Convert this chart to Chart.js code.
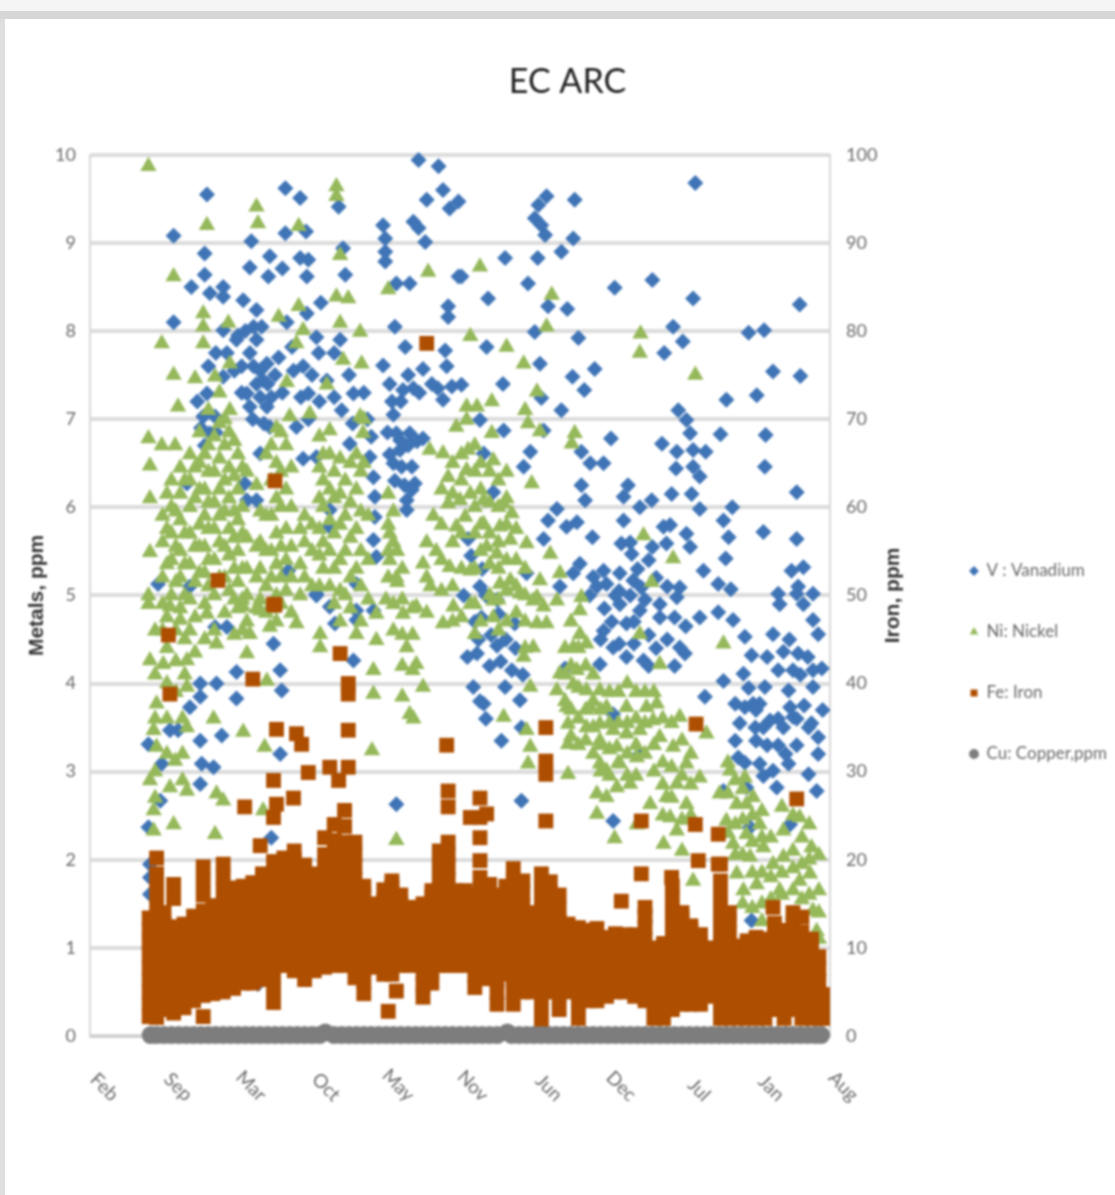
<!DOCTYPE html>
<html><head><meta charset="utf-8">
<script src="https://cdn.jsdelivr.net/npm/chart.js@4"></script>
<style>
html,body{margin:0;padding:0;background:#fff;width:1115px;height:1195px;overflow:hidden}
#wrap{position:absolute;left:0;top:0;width:1115px;height:1195px}
#frameT{position:absolute;left:0;top:0;width:1115px;height:11px;background:#f5f5f5;border-bottom:8px solid #d6d6d6}
#frameL{position:absolute;left:0;top:19px;width:5px;height:1176px;background:#dedede}
canvas{position:absolute;left:0;top:0;filter:blur(1.1px)}
</style></head><body>
<div id="wrap"><canvas id="c" width="1115" height="1195"></canvas><div id="frameT"></div><div id="frameL"></div></div>
<script>
const monthLabels=["Feb","Sep","Mar","Oct","May","Nov","Jun","Dec","Jul","Jan","Aug"];
const seriesNames=["V : Vanadium","Ni: Nickel","Fe: Iron","Cu: Copper,ppm"];
const rightTicks=[0,10,20,30,40,50,60,70,80,90,100];

const vanadium=[[1.58,9.55],[1.13,9.08],[1.55,8.88],[1.55,8.64],[1.37,8.5],[1.62,8.43],[1.8,8.5],[1.8,8.39],[1.13,8.1],[2.64,9.62],[2.84,9.51],[2.64,9.11],[2.92,9.13],[2.18,9.02],[2.16,8.72],[2.43,8.85],[2.41,8.62],[2.6,8.71],[2.84,8.83],[2.95,8.81],[2.93,8.62],[3.12,8.32],[3.36,9.41],[3.42,8.94],[3.45,8.64],[3.96,9.2],[3.99,9.05],[3.99,8.9],[3.99,8.79],[4.44,9.94],[4.71,9.87],[4.37,9.24],[4.44,9.17],[4.55,9.49],[4.53,9.01],[4.77,9.6],[4.86,9.39],[4.98,9.47],[4.14,8.54],[4.32,8.54],[4.84,8.28],[4.84,8.16],[4.98,8.62],
[4.12,8.05],[4.26,7.82],[4.5,7.57],[4.8,7.78],[4.82,7.6],[3.96,7.61],[4.05,7.4],[4.23,7.33],[4.37,7.35],[4.08,7.2],[4.77,7.22],[4.89,7.37],[4.14,6.84],[4.32,6.84],[4.5,6.78],[4.19,6.65],[4.21,6.46],[4.35,6.46],[4.39,6.27],[4.28,6.08],[4.28,5.97],[4.19,6.76],
[2.07,8.35],[2.25,8.24],[2.21,8.05],[2.32,8.05],[1.8,8.01],[1.98,7.9],[2.66,8.1],[2.93,8.2],[3.06,7.93],[3.09,7.75],[2.73,7.82],[3.38,7.9],[2.16,7.75],[2.21,7.6],[2.39,7.63],[1.8,7.48],[2.34,7.44],[2.12,7.29],[2.3,7.25],[2.45,7.25],[2.16,7.14],[2.39,7.14],[2.43,6.91],[1.58,7.29],[1.53,7.03],[1.69,7.03],[1.62,6.84],[2.88,7.6],[3.2,7.44],[2.95,7.29],[2.79,6.91],[3.56,7.29],[2.3,6.61],[3.06,6.57],[2.88,6.55],[3.51,6.72],[3.78,6.57],[3.83,6.34],[3.85,6.12],[3.85,5.89],[3.83,5.63],[3.87,5.44],[2.09,6.27],[2.12,6.08],[2.25,6.08],[3.24,5.97],[3.24,5.78],[1.31,6.27],[1.35,5.1],[2.68,5.28],[0.92,5.13],[3.06,5.02],[3.6,5.13],
[8.18,9.68],[6.17,9.53],[6.06,9.43],[6.01,9.28],[6.1,9.2],[6.15,9.09],[6.55,9.49],[6.53,9.05],[6.37,8.9],[6.05,8.83],[5.61,8.83],[5.92,8.54],[5.02,8.62],[5.38,8.37],[7.09,8.49],[7.6,8.58],[8.15,8.37],[9.59,8.3],[6.19,8.28],[6.45,8.25],[6.01,7.99],[6.6,7.92],[5.36,7.82],[7.88,8.05],[8.01,7.88],[7.76,7.75],[8.9,7.98],[9.11,8.01],[6.08,7.63],[6.52,7.48],[6.82,7.57],[6.68,7.33],[9.23,7.54],[9.6,7.49],[5.58,7.4],[5.02,7.39],[9.01,7.27],[8.6,7.22],[6.1,7.24],[6.37,7.1],[5.27,6.99],[7.95,7.1],[8.06,6.99],[8.11,6.84],[8.15,6.65],[8.15,6.46],[5.59,6.87],[6.13,6.87],[8.52,6.83],[9.13,6.82],[7.04,6.78],[7.73,6.72],[7.93,6.63],[7.92,6.44],[8.32,6.63],[8.24,6.35],[5.32,6.61],[5.95,6.63],[5.86,6.46],[6.64,6.63],[6.76,6.5],[6.94,6.5],[9.12,6.46],[9.55,6.17],[6.64,6.25],[6.69,6.08],[7.27,6.25],[7.21,6.12],[7.86,6.15],[8.13,6.15],[8.24,5.98],[8.68,6.0],[8.56,5.85],[8.63,5.66],[5.45,6.17],[6.31,5.98],[6.19,5.85],[6.13,5.64],[6.44,5.78],[6.58,5.83],[6.79,5.66],[7.21,5.85],[7.43,6.0],[7.59,6.08],[7.75,5.78],[7.84,5.8],[7.79,5.59],[8.06,5.7],[8.11,5.55],[9.1,5.72],[9.55,5.64],[7.18,5.59],[7.32,5.47],[8.59,5.42],[8.29,5.28],[8.49,5.13],[8.66,5.07],[9.48,5.28],[9.64,5.32],[9.57,5.1],[9.3,5.02],[9.77,5.02],[5.9,5.25],[5.11,5.64],[5.27,5.1],[6.62,5.36],[6.53,5.25],[6.8,5.21],[6.94,5.28],[7.16,5.25],[7.34,5.17],[7.45,5.09],[7.97,5.09],[6.35,5.1],[6.98,5.13],
[5.29,4.75],[5.52,4.79],[5.74,4.68],[5.23,4.34],[5.5,4.43],[5.18,3.96],[5.32,3.77],[5.7,4.15],[5.61,3.96],[5.81,3.81],[5.56,3.35],[5.83,2.67],[5.83,3.5],[7.16,4.9],[7.43,4.83],[7.7,4.9],[7.93,4.98],[8.24,4.75],[8.49,4.81],[8.69,4.72],[8.85,4.53],[8.94,4.32],[8.83,4.11],[8.56,4.03],[8.31,3.85],[9.32,4.9],[9.64,4.9],[9.77,4.72],[9.84,4.56],[9.55,5.02],[9.23,4.56],[9.37,4.36],[9.57,4.34],[9.5,4.15],[9.77,4.15],[9.89,4.17],[9.77,3.96],[9.12,3.96],[8.96,3.77],[9.44,3.92],[9.46,3.73],[8.72,3.77],[8.85,3.73],[9.05,3.77],[8.99,3.5],[8.72,3.35],[8.76,3.16],[9.19,3.58],[9.37,3.5],[9.5,3.62],[9.71,3.5],[9.84,3.39],[9.84,3.2],[9.05,3.09],[9.28,2.82],[9.23,3.01],[9.44,3.09],[9.71,2.97],[9.82,2.78],[8.56,2.78],[8.87,2.82],[8.94,1.31],[9.46,2.4],[7.07,2.44],[8.92,2.37],[6.94,4.6],[7.07,4.41],[7.25,4.68],[6.89,4.22],[7.25,4.3],[7.48,4.26],[7.7,4.75],[7.97,4.41],[8.04,4.34],[7.07,3.65],[7.43,3.2],[6.42,4.17],
[3.06,5.0],[3.24,4.87],[3.31,4.68],[3.6,4.83],[3.6,4.72],[3.83,4.83],[1.98,4.13],[1.71,4.0],[1.98,3.83],[1.49,4.0],[1.49,3.85],[2.57,4.15],[2.59,3.92],[2.48,4.45],[1.78,3.41],[1.08,3.47],[1.19,3.47],[1.49,3.35],[1.51,3.09],[1.49,2.86],[1.67,3.05],[0.97,3.09],[2.57,3.2],[0.95,2.67],[2.45,2.25],[4.14,2.63],[0.81,1.95],[0.81,1.8],[0.81,1.61],[3.56,4.26],[1.69,4.64],[1.85,4.64],[1.35,3.73],[0.79,3.31],[0.79,2.37],[2.27,0.59],[5.15,5.45],[5.3,5.3],[5.05,5.0],[5.2,4.7],[5.27,3.8]];

const vanadiumCore=[[1.6,7.6],[1.7,7.75],[1.85,7.75],[1.95,7.55],[2.05,7.6],[2.0,7.95],[2.1,8.0],[2.25,7.9],[2.3,7.55],[2.4,7.4],[2.25,7.4],[2.05,7.3],[2.2,7.0],[2.35,6.95],[2.55,7.7],[2.5,7.5],[2.6,7.3],[2.75,7.55],[2.85,7.25],[3.0,7.5],[2.95,7.0],[3.1,7.2],[3.3,7.75],[3.3,7.25],[3.4,7.1],[3.5,7.5],[3.55,6.95],[3.7,7.3],[3.75,7.0],[3.8,6.8],[1.5,6.9],[1.45,7.2],[1.7,6.85],[1.55,6.7],
[4.02,6.85],[4.1,6.5],[4.05,6.6],[4.12,6.3],[4.25,6.25],[4.3,6.7],[4.42,6.75],[4.35,6.2],[4.1,7.05],[4.2,7.2],[4.3,7.5],[4.45,7.3],[4.62,7.4],[4.7,7.35],
[5.35,5.0],[5.42,4.55],[5.5,4.95],[5.62,4.5],[5.25,4.5],[5.1,4.3],[5.4,4.2],[5.55,4.25],[5.75,4.4],[5.85,4.1],[5.35,3.6],
[6.75,5.0],[6.85,5.1],[6.95,4.85],[7.05,4.7],[7.15,5.05],[7.3,5.0],[7.35,4.7],[7.5,4.95],[7.55,4.55],[7.65,5.2],[7.8,5.1],[7.9,4.75],[8.05,4.65],[7.55,5.4],[7.6,5.55],[7.4,5.3],[7.3,5.6],[7.1,5.0],[6.9,4.5],[7.15,4.45],[7.35,4.45],[7.55,4.2],[7.65,4.4],[7.8,4.5],[7.9,4.2],
[8.78,3.55],[8.9,3.95],[9.0,3.7],[9.1,3.5],[9.15,3.3],[9.3,3.3],[9.3,3.6],[9.4,3.2],[9.55,3.3],[9.55,3.6],[9.6,4.1],[9.7,4.3],[9.65,3.75],[9.75,3.55],[9.9,3.7],[9.45,4.5],[9.3,4.15],[9.15,4.3],[9.1,2.95],[8.85,3.1],[9.0,3.35]];

const nickel=[[0.79,9.87],[2.25,9.41],[2.27,9.22],[3.33,9.64],[3.33,9.53],[1.58,9.2],[1.13,8.62],[2.82,9.19],[3.38,8.86],[4.57,8.67],[4.03,8.47],[3.33,8.39],[3.49,8.37],[1.53,8.2],[1.53,8.05],[0.97,7.86],[1.13,7.5],[1.19,7.14],[0.79,6.78],[0.97,6.7],[1.15,6.7],[0.81,6.47],[0.81,6.1],[0.81,5.49],[0.79,5.0],[1.42,7.46],[1.53,7.86],[1.87,8.09],[2.55,8.16],[2.82,8.28],[2.88,8.01],[2.79,7.86],[2.66,7.42],[3.38,8.09],[3.65,7.99],[3.42,7.67],[3.2,7.39],[3.67,7.63],[3.24,6.87],[3.65,7.03],[3.69,6.84],[2.97,7.06],[2.7,7.03],[1.89,7.1],[1.69,7.48],[1.89,7.63],[4.77,6.61],[4.59,6.65],[4.95,6.91],
[0.98,5.9],[0.98,5.6],[0.98,5.2],[0.98,4.9],[0.98,4.6],[1.1,6.3],[1.1,6],[1.1,5.7],[1.1,5.4],[1.1,5.0],[1.22,6.45],[1.22,6.15],[1.22,5.85],[1.22,5.5],[1.22,5.2],[1.22,4.85],[1.35,6.6],[1.35,6.3],[1.35,6],[1.35,5.7],[1.35,5.35],[1.35,4.95],[1.48,6.85],[1.48,6.5],[1.48,6.2],[1.48,5.8],[1.48,5.55],[1.48,5.25],[1.6,7.1],[1.6,6.7],[1.6,6.4],[1.6,6.05],[1.6,5.75],[1.6,5.4],[1.6,5.1],[1.75,7.3],[1.75,6.95],[1.75,6.55],[1.75,6.2],[1.75,5.9],[1.75,5.6],[1.75,5.2],[1.88,6.85],[1.88,6.45],[1.88,6.1],[1.88,5.75],[1.88,5.45],[1.88,5.05],[2.0,6.6],[2.0,6.2],[2.0,5.85],[2.0,5.5],[2.0,5.15],[2.0,4.85],[2.12,6.4],[2.12,5.65],[2.12,5.3],[2.12,5.0],[2.12,4.7],[2.25,6.25],[2.25,5.55],[2.25,5.2],[2.25,4.85],[2.38,6.6],[2.38,5.9],[2.38,5.5],[2.38,5.1],[2.38,4.8],[2.52,6.9],[2.52,6.5],[2.52,6.1],[2.52,5.7],[2.52,5.35],[2.52,5.0],[2.52,4.7],[2.65,6.7],[2.65,6.2],[2.65,5.75],[2.65,5.4],[2.65,5.05],[2.9,5.9],[2.9,5.6],[2.9,5.2],[3.0,5.8],[3.0,5.5],[3.0,5.1],[3.15,6.6],[3.15,6.3],[3.15,6.0],[3.15,5.6],[3.15,5.3],[3.3,6.4],[3.3,6.1],[3.3,5.7],[3.3,5.3],[3.3,4.9],[3.45,6.3],[3.45,5.9],[3.45,5.5],[3.45,5.0],[3.6,6.6],[3.6,6.2],[3.6,5.75],[3.6,5.3],[3.7,7.0],[3.7,6.5],[4.03,6.15],[4.03,5.8],[4.03,5.5],[4.03,5.2],[4.15,5.5],[4.15,5.15],[4.0,4.95],[4.64,5.9],[4.5,5.36],[4.68,5.5],[4.84,6.34],[4.84,6.04],[4.95,5.78],[4.86,5.32],[4.6,5.1],[4.05,5.7],[4.05,5.4],[4.14,5.2],
[5.27,8.73],[5.14,7.94],[5.63,7.82],[5.86,7.63],[6.24,8.41],[6.17,8.05],[7.44,7.97],[7.43,7.75],[8.18,7.5],[6.04,7.31],[5.88,7.1],[5.92,6.95],[6.08,6.86],[6.55,6.84],[6.51,6.72],[5.43,7.2],[5.23,7.14],[5.09,7.14],[5.09,6.99],[5.43,6.84],[5.11,6.65],[5.45,6.53],[5.63,6.4],[5.97,6.27],[5.09,6.42],[5.14,6.15],[5,6.08],[5.32,6.08],[5.59,6.04],[5.7,5.93],[5.07,5.89],[5.32,5.81],[5.54,5.78],[5.68,5.63],[5.9,5.59],[5.36,5.55],[5.5,5.47],[6.22,5.47],[6.08,5.17],[6.35,5.25],[5.68,5.17],[5.81,5.02],[5.14,5.28],[5.54,5.13],[7.48,5.68],[7.88,5.42],[7.59,5.15],[6.64,4.98],[6.04,4.98],
[5.14,4.9],[5.45,4.94],[5.45,4.75],[5.2,4.56],[5.99,4.94],[6.13,4.87],[6.31,4.94],[6.04,4.68],[6.17,4.68],[5.99,4.41],[5.86,4.3],[6.62,4.83],[6.62,4.56],[6.53,4.41],[6.71,4.45],[7.43,4.56],[7.7,4.22],[6.58,4.15],[6.35,4.11],[6.53,3.99],[6.31,3.92],[5.95,3.96],[6.71,3.92],[6.89,3.92],[6.44,3.73],[6.76,3.73],[5.59,3.62],[5.9,3.47],[5.95,3.28],[5.92,3.09],[6.46,3.54],[6.46,3.31],[6.46,2.97],[6.71,3.5],[6.89,3.54],[6.89,3.35],[6.89,3.09],[7.07,3.47],[7.12,3.28],[7.25,3.43],[7.43,3.47],[7.61,3.58],[7.66,3.77],[7.25,3.73],[6.98,3.73],[7.52,3.73],[7.7,3.39],[7.39,3.16],[7.16,3.09],[6.98,3.01],[7.3,2.86],[6.85,2.75],[7.12,2.82],[6.85,2.52],[6.98,2.71],[7.57,2.63],[7.09,2.24],[7.39,2.4],[7.88,3.28],[8.06,3.09],[7.93,2.86],[7.79,2.71],[7.84,2.48],[8.06,2.63],[7.75,2.18],[7.93,2.33],[8.24,2.93],[8.33,3.43],[7.97,3.62],[8.56,4.45],[8.65,3.01],[8.51,2.75],[8.6,2.44],[8.74,2.63],[8.87,2.63],[8.69,2.18],[8.87,2.29],[9.05,2.4],[8.74,1.84],[8.92,2.03],[9.1,2.14],[8.83,1.65],[9.01,1.72],[9.23,1.95],[9.37,2.33],[9.37,2.03],[9.5,1.9],[9.59,2.48],[9.75,2.14],[9.73,1.84],[9.59,1.76],[9.77,1.42],[9.82,1.19],[9.32,1.65],[8.15,1.76],[8.85,2.93],[8.96,2.71],
[0.79,4.9],[1.08,4.87],[1.22,4.72],[1.58,4.79],[2.07,4.87],[2.3,4.83],[2.16,4.56],[2.43,4.64],[1.71,4.45],[0.81,4.26],[0.99,4.22],[1.31,4.26],[1.35,4.6],[2.79,4.68],[3.11,4.41],[2.39,4.03],[2.12,4.34],[0.9,3.77],[1.31,3.96],[0.86,3.47],[0.9,3.28],[1.67,3.6],[2.07,3.45],[2.36,3.28],[1.31,3.5],[1.15,3.12],[1.31,2.78],[1.08,2.82],[0.81,2.9],[0.86,2.56],[1.13,2.4],[0.86,2.33],[1.71,2.75],[1.8,2.67],[1.69,2.29],[2.34,2.56],[3.81,3.24],[4.14,2.22],[3.87,4.79],[3.87,4.49],[3.83,4.15],[3.83,3.88],[4.23,4.79],[4.41,4.87],[4.28,4.41],[4.41,4.22],[4.5,3.96],[4.32,3.65],[4.37,3.6],[4.77,4.68],[4.91,4.87],[3.6,4.56],[3.11,4.56]];

const nickelCore=[
[0.88,4.6,4.1,3.6,3.0,2.7],[1.04,6.15,5.75,5.35,4.75,4.4,4.0,3.6,3.2],[1.16,5.95,5.55,5.15,4.6,4.25,3.9],[1.25,3.6,3.2,2.9],[1.28,6.3,5.7,5.35,5.0,4.5,4.1],[1.42,6.45,6.1,5.55,5.15,4.75,4.35],[1.55,6.6,6.2,5.9,5.55,5.25,4.9,4.5],[1.68,6.8,6.4,6.05,5.75,5.4,5.0,4.6],[1.82,7.0,6.7,6.3,5.95,5.55,5.2,4.8],[1.95,6.75,6.35,5.95,5.65,5.3,4.95,4.55],[2.06,6.45,6.0,5.7,5.3,4.95,4.6],[2.3,5.95,5.6,5.3,4.95],[2.45,6.7,6.3,5.9,5.5,5.2,4.85],[2.58,6.85,6.4,6.0,5.55,5.2,4.9],[2.72,6.45,6.0,5.55,5.2,4.8],[2.84,5.75,5.35,5.0],[3.1,6.8,6.45,6.1,5.75,5.45,5.1],[3.24,6.6,6.2,5.85,5.5,5.1],[3.38,6.55,6.15,5.8,5.4,5.05,4.7],[3.52,6.5,6.05,5.65,5.2,4.85],[3.66,6.4,5.95,5.5,5.1,4.7],[3.76,5.9,5.4,4.95],
[4.1,5.95,5.6,4.9,4.6],[4.22,5.3,4.95,4.55,4.2,3.85],[4.36,4.85,4.55,4.15],[4.55,5.6,5.2,4.8],[4.75,6.2,5.8,5.4,5.05],[4.9,6.5,6.15,5.6,5.1,4.7],[5.02,6.6,6.3,5.7,5.3,4.75],[5.2,6.7,6.4,6.0,5.7,5.3,4.9],[5.28,6.5,6.2,5.8,5.5,4.7],[5.4,6.4,6.05,5.7,5.35,5],[5.52,6.3,6,5.6,5.3,4.95,4.6],[5.63,6.1,5.8,5.4,5.05,4.7],[5.76,5.75,5.4,5.1,4.8],[5.88,5.3,5,4.7,4.4],
[6.42,4.4,4.1,3.8],[6.5,4.7,4.2,3.7,3.4],[6.6,4.4,3.95,3.6,3.3],[6.7,4.2,3.7,3.35],[6.8,4.1,3.8,3.5,3.2],[6.9,3.7,3.3,3.0],[7.02,3.9,3.55,3.25,2.95],[7.14,3.9,3.55,3.1],[7.26,4.0,3.55,3.2,2.95],[7.38,3.9,3.6,3.3,2.95],[7.5,3.9,3.55,3.2],[7.62,3.9,3.3,3.0],[7.74,3.6,3.1,2.85,2.5],[7.86,3.55,3.05,2.7],[8.0,3.35,2.95,2.45,2.1],[8.12,3.2,2.85,2.5],
[8.62,3.1,2.75,2.3],[8.72,2.9,2.4,2.05],[8.82,2.8,2.45,2.05,1.5],[8.95,2.5,2.2,1.85,1.45],[9.08,2.55,2.25,1.85,1.5,1.3],[9.2,2.25,1.8,1.55],[9.35,2.6,1.85,1.6],[9.5,2.5,2.1,1.65],[9.62,2.25,1.95,1.55],[9.72,2.4,2.0,1.6],[9.85,2.05,1.65,1.4,1.1]];

const ironOutliers=[[1.06,45.5],[1.08,38.8],[2.2,40.5],[2.48,49],[3.38,43.4],[3.49,40],[3.49,38.8],[3.49,34.7],[2.79,34.3],[2.86,33.1],[2.52,34.8],[2.95,29.9],[3.24,30.5],[3.36,29],[3.49,30.5],[2.48,29],[2.52,26.3],[2.48,24.8],[2.75,27],[2.09,26],[2.3,21.6],[4.82,33],[4.84,27.8],[4.84,26],[2.5,63],[1.73,51.7],[2.5,48.9],[4.55,78.6],[5.27,27],[5.14,24.8],[5.27,24.8],[5.36,25.2],[5.27,22.5],[6.16,35],[6.16,31.2],[6.16,29.7],[6.16,24.4],[8.19,35.4],[7.45,24.4],[8.18,24],[8.22,19.9],[8.49,22.9],[9.55,26.9],[7.45,18.4],[7.18,15.3],[7.86,18],[9.23,14.6],[8.49,19.5]];

const ironBand=[
[0.8,2.2,3.6,5,6.4,7.8,9.2,10.6,12,13.4],
[0.9,2.1,3.5,4.9,6.3,7.7,9.1,10.5,12,13.6,15.2,16.8,18.4,20.2],
[1.0,3,4.4,5.8,7.2,8.6,10,11.4,12.8,14],
[1.13,2.6,4,5.4,6.8,8.2,9.6,11,12.4,15.6,17.2],
[1.27,3.2,4.6,6,7.4,8.8,10.2,11.6,12.7],
[1.4,4,5.4,6.8,8.2,9.6,11,12.4,13.6],
[1.53,2.2,4.6,6,7.4,8.8,10.2,11.6,13,14.2,16,17.6,19.2],
[1.66,4.8,6.2,7.6,9,10.4,11.8,13.2,14.8],
[1.8,5,6.4,7.8,9.2,10.6,12,13.4,15,16.6,18,19.5],
[1.94,5.4,6.8,8.2,9.6,11,12.4,13.8,15.4,16.8],
[2.07,6,7.4,8.8,10.2,11.6,13,14.4,15.8,17],
[2.2,6,7.4,8.8,10.2,11.6,13,14.4,15.9,17.4],
[2.33,6.4,7.8,9.2,10.6,12,13.4,14.8,16.2,17.4,18.4],
[2.48,3.8,5.4,7,8.4,9.8,11.2,12.6,14,15.4,16.8,18.2,19.8],
[2.62,8,9.4,10.8,12.2,13.6,15,16.4,17.8,19,20.2],
[2.76,7.4,8.8,10.2,11.6,13,14.4,15.8,17.2,18.6,20,21],
[2.9,6.4,7.8,9.2,10.6,12,13.4,14.8,16.2,17.8,19.4],
[3.03,7.4,8.8,10.2,11.6,13,14.4,15.8,17.2,18.4],
[3.17,7.8,9.2,10.6,12,13.4,14.8,16.2,17.6,19,20.6,22.5],
[3.3,8,9.4,10.8,12.2,13.6,15,16.4,17.8,19.2,20.6,22.2,24],
[3.44,8,9.4,10.8,12.2,13.6,15,16.4,17.8,19.2,20.6,22,23.8,25.6],
[3.58,6.6,8,9.4,10.8,12.2,13.6,15,16.4,17.8,19.2,20.6,22],
[3.7,4.8,6.2,7.6,9,10.4,11.8,13.2,14.6,16,17],
[3.83,7.8,9.2,10.6,12,13.4,15],
[3.97,7,8.4,9.8,11.2,12.6,14,15.4,16.6],
[4.03,2.8],
[4.08,7,8.4,9.8,11.2,12.6,14,15.4,17,17.6],
[4.14,5.1],
[4.2,8,9.4,10.8,12.2,13.6,15,16],
[4.33,8,9.4,10.8,12.2,13.6,14.6],
[4.5,4.4,5.8,7.2,8.6,10,11.4,12.8,14.2,15],
[4.62,6,7.4,8.8,10.2,11.6,13,14.4,15.8,16.5],
[4.72,8,9.4,10.8,12.2,13.6,15,16.4,17.8,19.4,21],
[4.84,8,9.4,10.8,12.2,13.6,15,16.4,17.8,19.2,20.6,22],
[4.95,8,9.4,10.8,12.2,13.6,15,16.5],
[5.07,8,9.4,10.8,12.2,13.6,15,16.5],
[5.2,5.5,6.9,8.3,9.7,11.1,12.5,13.9,15.3,16],
[5.27,6.6,8,9.4,10.8,12.2,13.6,15,16.4,18,19.9],
[5.4,6.5,7.9,9.3,10.7,12.1,13.5,14.9,16.3,17.2],
[5.5,3.6,5,6.4,7.8,9.2,10.6,12,13.4,14.8,16],
[5.62,7,8.4,9.8,11.2,12.6,14,15.4,17],
[5.72,3.6,5,6.4,7.8,9.2,10.6,12,13.4,14.8,16.2,17.6,19],
[5.85,5,6.4,7.8,9.2,10.6,12,13.4,14.8,16.2,17.6],
[5.97,5,6.4,7.8,9.2,10.6,12,13.4,14],
[6.1,1.8,3.4,5,6.4,7.8,9.2,10.6,12,13.4,14.8,16.2,17.4,18.4],
[6.22,5,6.4,7.8,9.2,10.6,12,13.4,14.8,16.2,17.5],
[6.34,3,4.6,6,7.4,8.8,10.2,11.6,13,14.4,16],
[6.46,5,6.4,7.8,9.2,10.6,12,12.7],
[6.6,2,3.6,5,6.4,7.8,9.2,10.6,12,12.3],
[6.72,4,5.4,6.8,8.2,9.6,11,12],
[6.85,4,5.4,6.8,8.2,9.6,11,12.2],
[6.98,4.5,5.9,7.3,8.7,10.1,11.2],
[7.1,5,6.4,7.8,9.2,10.6,11.6],
[7.23,5,6.4,7.8,9.2,10.6,11.5],
[7.36,4.5,5.9,7.3,8.7,10.1,11.5],
[7.5,4,5.4,6.8,8.2,9.6,11,12.4,13.6,14.6],
[7.62,2,3.6,5,6.4,7.8,9.2,10],
[7.75,2,3.6,5,6.4,7.8,9.2,10.5],
[7.87,3,4.4,5.8,7.2,8.6,10,11.4,12.8,14.2,15.6,17],
[8.0,3.6,5,6.4,7.8,9.2,10.6,12,13.4,14],
[8.12,3.6,5,6.4,7.8,9.2,10.6,12,12.5],
[8.25,3.6,5,6.4,7.8,9.2,10.6,11.5],
[8.36,4.5,5.9,7.3,8.7,10],
[8.52,2,3.4,4.8,6.2,7.6,9,10.4,11.8,13.2,14.6,16,17.6,19.5],
[8.64,2,3.4,4.8,6.2,7.6,9,10.4,11.8,13.2,14],
[8.76,2,3.4,4.8,6.2,7.6,9,10.2],
[8.88,2,3.4,4.8,6.2,7.6,9,10.4,10.8],
[9.0,2,3.4,4.8,6.2,7.6,9,10.4,11.2],
[9.12,2,3.4,4.8,6.2,7.6,9,10.4,11],
[9.25,3,4.4,5.8,7.2,8.6,10,11.4,12.8],
[9.38,2,3.4,4.8,6.2,7.6,9,10.4,12],
[9.5,3,4.4,5.8,7.2,8.6,10,11.4,12.8,14],
[9.62,2,3.4,4.8,6.2,7.6,9,10.4,11.8,13.5],
[9.75,2,3.4,4.8,6.2,7.6,9,10.4,11],
[9.85,2,3.4,4.8,6.2,7.6,9],
[9.9,2,3.4,4.7]];

const copperX=[0.82,0.9,1,1.1,1.2,1.3,1.4,1.5,1.6,1.7,1.8,1.9,2,2.1,2.2,2.3,2.4,2.5,2.6,2.7,2.8,2.9,3,3.1,3.18,3.3,3.4,3.5,3.6,3.7,3.8,3.9,4,4.1,4.2,4.3,4.4,4.5,4.6,4.7,4.8,4.9,5,5.1,5.2,5.3,5.4,5.5,5.64,5.7,5.8,5.9,6,6.1,6.2,6.3,6.4,6.5,6.6,6.7,6.8,6.9,7,7.1,7.2,7.3,7.4,7.5,7.6,7.7,7.8,7.9,8,8.1,8.2,8.3,8.4,8.5,8.6,8.7,8.8,8.9,9,9.1,9.2,9.3,9.4,9.5,9.6,9.7,9.8,9.88];
const copperY=[0.01,0.01,0.01,0.01,0.01,0.01,0.01,0.01,0.01,0.01,0.01,0.01,0.01,0.01,0.01,0.01,0.01,0.01,0.01,0.01,0.01,0.01,0.01,0.01,0.04,0.01,0.01,0.01,0.01,0.01,0.01,0.01,0.01,0.01,0.01,0.01,0.01,0.01,0.01,0.01,0.01,0.01,0.01,0.01,0.01,0.01,0.01,0.01,0.04,0.01,0.01,0.01,0.01,0.01,0.01,0.01,0.01,0.01,0.01,0.01,0.01,0.01,0.01,0.01,0.01,0.01,0.01,0.01,0.01,0.01,0.01,0.01,0.01,0.01,0.01,0.01,0.01,0.01,0.01,0.01,0.01,0.01,0.01,0.01,0.01,0.01,0.01,0.01,0.01,0.01,0.01,0.01];

const toPoints=a=>a.map(p=>({x:p[0],y:p[1]}));
const columns=a=>a.flatMap(c=>c.slice(1).map(y=>({x:c[0],y})));
const ironPoints=[...columns(ironBand),...toPoints(ironOutliers)];
const nickelPoints=[...toPoints(nickel),...columns(nickelCore)];
const vanadiumPoints=[...toPoints(vanadium),...toPoints(vanadiumCore)];
const copperPoints=copperX.map((x,i)=>({x,y:copperY[i]}));
const face="Lato,'Liberation Sans',sans-serif";
const tickColor='#6a6a6a';

const layoutFix={id:'layoutFix',
 beforeLayout(chart){
  const lg=chart.legend;
  if(lg&&!lg._wrapped){
   const fit=lg.fit;
   lg.fit=function(){fit.call(this);this.width=189;};
   lg._wrapped=true;
  }
 },
 afterLayout(chart){
  const lg=chart.legend;
  if(lg){lg.top+=65;lg.bottom+=65;}
 },
 afterDraw(chart){
  const a=chart.chartArea,ctx=chart.ctx;
  ctx.save();
  ctx.translate(a.right+63,(a.top+a.bottom)/2);
  ctx.rotate(-Math.PI/2);
  ctx.font="bold 21px 'Liberation Sans',sans-serif";
  ctx.fillStyle='#333';ctx.textAlign='center';ctx.textBaseline='middle';
  ctx.fillText('Iron, ppm',0,0);
  ctx.restore();
 }};

new Chart(document.getElementById('c'),{
 type:'scatter',
 data:{datasets:[
  {label:seriesNames[0],data:vanadiumPoints,yAxisID:'y',order:4,pointStyle:'rectRot',pointRadius:8,backgroundColor:'#3f74b6',borderColor:'#3f74b6',borderWidth:0,clip:false},
  {label:seriesNames[1],data:nickelPoints,yAxisID:'y',order:3,pointStyle:'triangle',pointRadius:9.5,backgroundColor:'#95b85a',borderColor:'#95b85a',borderWidth:0,clip:false},
  {label:seriesNames[2],data:ironPoints,yAxisID:'y2',order:2,pointStyle:'rect',pointRadius:10.5,backgroundColor:'#ae4e00',borderColor:'#ae4e00',borderWidth:0,clip:false},
  {label:seriesNames[3],data:copperPoints,yAxisID:'y',order:1,pointStyle:'circle',pointRadius:9,backgroundColor:'#7d7d7d',borderColor:'#7d7d7d',borderWidth:0,clip:false}
 ]},
 options:{
  responsive:false,animation:false,
  layout:{padding:{left:20,right:0,top:0,bottom:0}},
  plugins:{
   tooltip:{enabled:false},
   title:{display:true,text:'EC ARC',color:'#222',font:{family:face,size:34,weight:'normal'},padding:{top:62,bottom:52}},
   legend:{position:'right',labels:{usePointStyle:true,boxWidth:8,boxHeight:7,padding:44,color:'#6a6a6a',font:{family:face,size:17},sort:(a,b)=>a.datasetIndex-b.datasetIndex}}
  },
  scales:{
   x:{type:'linear',min:0,max:10,afterFit:s=>{s.height=159},
      grid:{display:false},border:{display:true,color:'#cfcfcf',width:3},
      afterBuildTicks:s=>{s.ticks=monthLabels.map((_,i)=>({value:i}))},
      ticks:{callback:v=>monthLabels[v],minRotation:-45,maxRotation:-45,autoSkip:false,padding:46,labelOffset:25,color:tickColor,font:{family:face,size:19}}},
   y:{position:'left',min:0,max:10,afterFit:s=>{s.width=70},
      grid:{color:'#dcdcdc',lineWidth:4,drawTicks:false},border:{color:'#d8d8d8',width:2},
      title:{display:true,text:'Metals, ppm',color:'#333',font:{family:"'Liberation Sans',sans-serif",size:21,weight:'bold'},padding:{top:5,bottom:0}},
      ticks:{stepSize:1,padding:14,color:tickColor,font:{family:face,size:18}}},
   y2:{position:'right',min:0,max:100,afterFit:s=>{s.width=96},
      grid:{display:false,drawTicks:false},border:{color:'#d8d8d8',width:2},
      afterBuildTicks:s=>{s.ticks=rightTicks.map(v=>({value:v}))},
      ticks:{padding:16,color:tickColor,font:{family:face,size:18}}}
  }
 },
 plugins:[layoutFix]
});
</script></body></html>
